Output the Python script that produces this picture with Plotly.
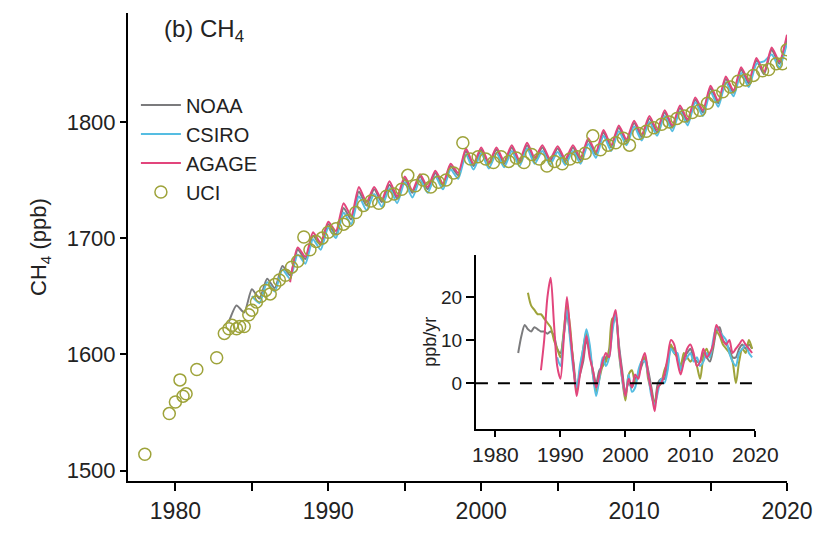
import numpy as np
import plotly.graph_objects as go

# ---------------- main panel data (semiannual samples, ppb) ----------------
noaa_start = 1983.5
noaa_ch4 = [1628, 1642, 1636, 1656, 1648, 1665, 1657, 1676, 1668, 1690,
            1682, 1702, 1694, 1712, 1703, 1726, 1716, 1740, 1728, 1742,
            1731, 1746, 1734, 1751, 1739, 1753, 1742, 1756, 1745, 1762,
            1754, 1775, 1762, 1776, 1764, 1776, 1764, 1778, 1765, 1780,
            1767, 1778, 1766, 1777, 1766, 1778, 1767, 1784, 1772, 1791,
            1778, 1795, 1783, 1799, 1787, 1803, 1791, 1808, 1795, 1812,
            1800, 1819, 1808, 1829, 1816, 1837, 1825, 1845, 1833, 1853,
            1841, 1862, 1850, 1872]

csiro_start = 1985.0
csiro_ch4 = [1650, 1644, 1662, 1654, 1673, 1665, 1686, 1678, 1699, 1690,
             1709, 1700, 1722, 1712, 1736, 1724, 1738, 1727, 1743, 1730,
             1748, 1735, 1750, 1739, 1753, 1742, 1759, 1751, 1772, 1759,
             1773, 1760, 1773, 1761, 1775, 1762, 1777, 1764, 1775, 1763,
             1774, 1763, 1775, 1764, 1781, 1769, 1788, 1775, 1792, 1780,
             1796, 1784, 1800, 1788, 1805, 1792, 1809, 1797, 1817, 1805,
             1826, 1813, 1834, 1822, 1842, 1830, 1850, 1852, 1858, 1847,
             1868]

agage_start = 1987.5
agage_ch4 = [1662, 1692, 1684, 1705, 1696, 1714, 1706, 1730, 1719, 1744,
             1731, 1744, 1733, 1749, 1736, 1753, 1741, 1755, 1744, 1758,
             1747, 1764, 1756, 1777, 1764, 1778, 1765, 1778, 1766, 1780,
             1767, 1782, 1769, 1780, 1768, 1779, 1768, 1780, 1769, 1786,
             1774, 1793, 1780, 1797, 1785, 1801, 1789, 1805, 1793, 1810,
             1797, 1814, 1802, 1821, 1810, 1831, 1818, 1839, 1827, 1847,
             1835, 1855, 1843, 1864, 1852, 1875]

uci_year = [1978.0, 1979.6, 1980.0, 1980.3, 1980.5, 1980.7, 1981.4, 1982.7,
            1983.2, 1983.5, 1983.7, 1984.0, 1984.2, 1984.5, 1984.8, 1985.0,
            1985.3, 1985.6, 1985.9, 1986.2, 1986.5, 1986.8, 1987.2, 1987.6,
            1988.0, 1988.4, 1988.8, 1989.2, 1989.6, 1990.0, 1990.5, 1991.0,
            1991.3, 1991.8, 1992.3, 1992.8, 1993.3, 1993.8, 1994.3, 1994.8,
            1995.2, 1995.7, 1996.2, 1996.7, 1997.2, 1997.7, 1998.2, 1998.8,
            1999.3, 1999.8, 2000.3, 2000.8, 2001.3, 2001.8, 2002.3, 2002.8,
            2003.3, 2003.8, 2004.3, 2004.8, 2005.3, 2005.8, 2006.3, 2006.8,
            2007.3, 2007.8, 2008.3, 2008.8, 2009.3, 2009.7, 2010.3, 2010.8,
            2011.3, 2011.8, 2012.3, 2012.8, 2013.3, 2013.8, 2014.3, 2014.8,
            2015.3, 2015.8, 2016.3, 2016.8, 2017.3, 2017.8, 2018.4, 2018.8,
            2019.3, 2019.7, 2020.0]
uci_ch4 = [1514, 1549, 1559, 1578, 1564, 1566, 1587, 1597,
           1618, 1622, 1625, 1622, 1624, 1624, 1634, 1638,
           1645, 1650, 1655, 1652, 1660, 1664, 1668, 1675,
           1680, 1701, 1690, 1697, 1700, 1705, 1708, 1712,
           1715, 1722, 1728, 1732, 1730, 1736, 1738, 1742,
           1754, 1745, 1750, 1744, 1748, 1750, 1756, 1782,
           1768, 1770, 1768, 1765, 1770, 1766, 1769, 1765,
           1772, 1768, 1762, 1766, 1764, 1768, 1770, 1773,
           1788, 1776, 1780, 1782, 1786, 1780, 1790, 1792,
           1795, 1798, 1800, 1803, 1805, 1808, 1810, 1816,
           1822, 1826, 1830, 1835, 1836, 1840, 1844, 1845,
           1850, 1850, 1862]

# ---------------- inset data: growth rate (ppb/yr), semiannual ----------------
noaa_gr_start = 1983.5
noaa_gr = [7, 11, 13.5, 12.5, 12, 13, 12.5, 12, 12, 11.5, 12, 11, 8, 7, 11,
           16, 11, 5, -1, 2, 5, 10, 7, 3, 0, 3, 4, 6, 7, 13, 16, 9, 3, -2,
           0, -1, 1, 2, 4, 6, 3, -1, -5, 0, 1, 1, 4, 8, 8, 6, 3, 6, 7, 8,
           6, 5, 5, 7, 6, 5, 8, 12, 13, 10, 9, 8, 6, 6, 8, 9, 8, 9, 8]

uci_gr_start = 1985.0
uci_gr = [21, 18, 17, 16, 16, 15, 14, 13, 10, 8, 6, 12, 18, 13, 4, -2, 3, 8,
          12, 8, 2, -2, 1, 4, 5, 8, 15, 15, 7, 1, -4, 2, 3, 0, 2, 5, 6, 1,
          -2, -5, -1, 0, 3, 5, 9, 7, 6, 4, 7, 6, 5, 6, 4, 1, 6, 8, 6, 9,
          12, 11, 9, 8, 7, 5, 0, 5, 8, 7, 10, 8]

csiro_gr_start = 1989.5
csiro_gr = [6, 4, 11, 17, 10, 3, -1, 4, 8, 12.5, 9, 2, -3, 1, 6, 4, 6, 12,
            16, 8, 1, -3, 2, -2, -1, 3, 5, 5, 2, -3, -5, -2, 1, 0, 3, 8, 7,
            7, 3, 5, 6, 7, 5, 6, 4, 5, 7, 6, 10, 13, 12, 11, 10, 7, 5, 4, 7,
            8, 9, 7, 6]

agage_gr_start = 1987.0
agage_gr = [3, 10, 20, 24.5, 14, 4, 1, 10, 20, 12, 4, -3, 2, 6, 11, 6, 3, -1,
            2, 5, 7, 6, 14, 17, 8, 2, -3, 1, -1, 2, 1, 5, 7, 2, -2, -6.5, -1,
            0, 2, 6, 10, 9, 5, 2, 5, 8, 9, 7, 4, 5, 8, 6, 7, 9, 13.5, 12, 10,
            9, 10, 7, 8, 9, 10, 9, 8, 7]

zero_line_year = [1977, 2019.5]
zero_line_val = [0, 0]

main_xticks = [1980, 1990, 2000, 2010, 2020]
main_xminor = [1985, 1995, 2005, 2015]
main_yticks = [1500, 1600, 1700, 1800]
inset_xticks = [1980, 1990, 2000, 2010, 2020]
inset_yticks = [0, 10, 20]

C_NOAA = "#7b7b7d"
C_CSIRO = "#55bde2"
C_AGAGE = "#e2457c"
C_UCI = "#9ea33a"


def semi(start, vals):
    return start + 0.5 * np.arange(len(vals))


FONT = "Liberation Sans, Arial, sans-serif"
fig = go.Figure()

fig.add_trace(go.Scatter(x=semi(noaa_start, noaa_ch4), y=noaa_ch4, mode="lines",
                         name="NOAA", line=dict(color=C_NOAA, width=2, shape="spline", smoothing=0.6)))
fig.add_trace(go.Scatter(x=semi(csiro_start, csiro_ch4), y=csiro_ch4, mode="lines",
                         name="CSIRO", line=dict(color=C_CSIRO, width=2, shape="spline", smoothing=0.6)))
fig.add_trace(go.Scatter(x=semi(agage_start, agage_ch4), y=agage_ch4, mode="lines",
                         name="AGAGE", line=dict(color=C_AGAGE, width=2, shape="spline", smoothing=0.6)))
fig.add_trace(go.Scatter(x=uci_year, y=uci_ch4, mode="markers", name="UCI",
                         marker=dict(symbol="circle-open", size=12, color=C_UCI,
                                     line=dict(width=1.5, color=C_UCI))))

inset_line = dict(width=2, shape="spline", smoothing=0.8)
fig.add_trace(go.Scatter(x=semi(noaa_gr_start, noaa_gr), y=noaa_gr, mode="lines",
                         line=dict(color=C_NOAA, **inset_line), xaxis="x2", yaxis="y2", showlegend=False))
fig.add_trace(go.Scatter(x=semi(uci_gr_start, uci_gr), y=uci_gr, mode="lines",
                         line=dict(color=C_UCI, **inset_line), xaxis="x2", yaxis="y2", showlegend=False))
fig.add_trace(go.Scatter(x=semi(csiro_gr_start, csiro_gr), y=csiro_gr, mode="lines",
                         line=dict(color=C_CSIRO, **inset_line), xaxis="x2", yaxis="y2", showlegend=False))
fig.add_trace(go.Scatter(x=semi(agage_gr_start, agage_gr), y=agage_gr, mode="lines",
                         line=dict(color=C_AGAGE, **inset_line), xaxis="x2", yaxis="y2", showlegend=False))
fig.add_trace(go.Scatter(x=zero_line_year, y=zero_line_val, mode="lines",
                         line=dict(color="black", width=2, dash="12px,10px"),
                         xaxis="x2", yaxis="y2", showlegend=False))

axis_common = dict(showline=True, linecolor="black", linewidth=2, ticks="outside",
                   tickcolor="black", tickwidth=1.5, showgrid=False, zeroline=False)

fig.update_layout(
    width=825, height=536,
    margin=dict(l=128, r=29, t=13, b=45),
    plot_bgcolor="white", paper_bgcolor="white",
    font=dict(family=FONT, color="#222"),
    xaxis=dict(range=[1976.9, 2020], tickvals=main_xticks, ticklen=8,
               tickfont=dict(family=FONT, size=23, color="#222"),
               minor=dict(tickvals=main_xminor, ticks="outside", ticklen=8,
                          tickcolor="black", tickwidth=1.5, showgrid=False),
               **axis_common),
    yaxis=dict(range=[1491, 1893.7], tickvals=main_yticks, ticklen=6,
               tickfont=dict(family=FONT, size=22, color="#222"),
               title=dict(text="CH<sub>4</sub> (ppb)", font=dict(family=FONT, size=22, color="#222"),
                          standoff=14),
               **axis_common),
    xaxis2=dict(domain=[0.528, 0.952], anchor="y2", range=[1977, 2020],
                tickvals=inset_xticks, ticklen=6,
                tickfont=dict(family=FONT, size=21, color="#222"),
                **axis_common),
    yaxis2=dict(domain=[0.1115, 0.4833], anchor="x2", range=[-10.6, 29.8],
                tickvals=inset_yticks, ticklen=8,
                tickfont=dict(family=FONT, size=19, color="#222"),
                title=dict(text="ppb/yr", font=dict(family=FONT, size=18, color="#222"), standoff=0),
                **axis_common),
    legend=dict(x=0.012, y=0.845, xanchor="left", yanchor="top", bgcolor="rgba(0,0,0,0)",
                font=dict(family=FONT, size=20, color="#222"), itemwidth=40,
                tracegroupgap=0),
    showlegend=True,
    annotations=[dict(text="(b) CH<sub>4</sub>", x=0.052, y=0.962, xref="paper", yref="paper",
                      xanchor="left", yanchor="middle", showarrow=False,
                      font=dict(family=FONT, size=24, color="#222"))],
)

fig.write_html("out.html")
